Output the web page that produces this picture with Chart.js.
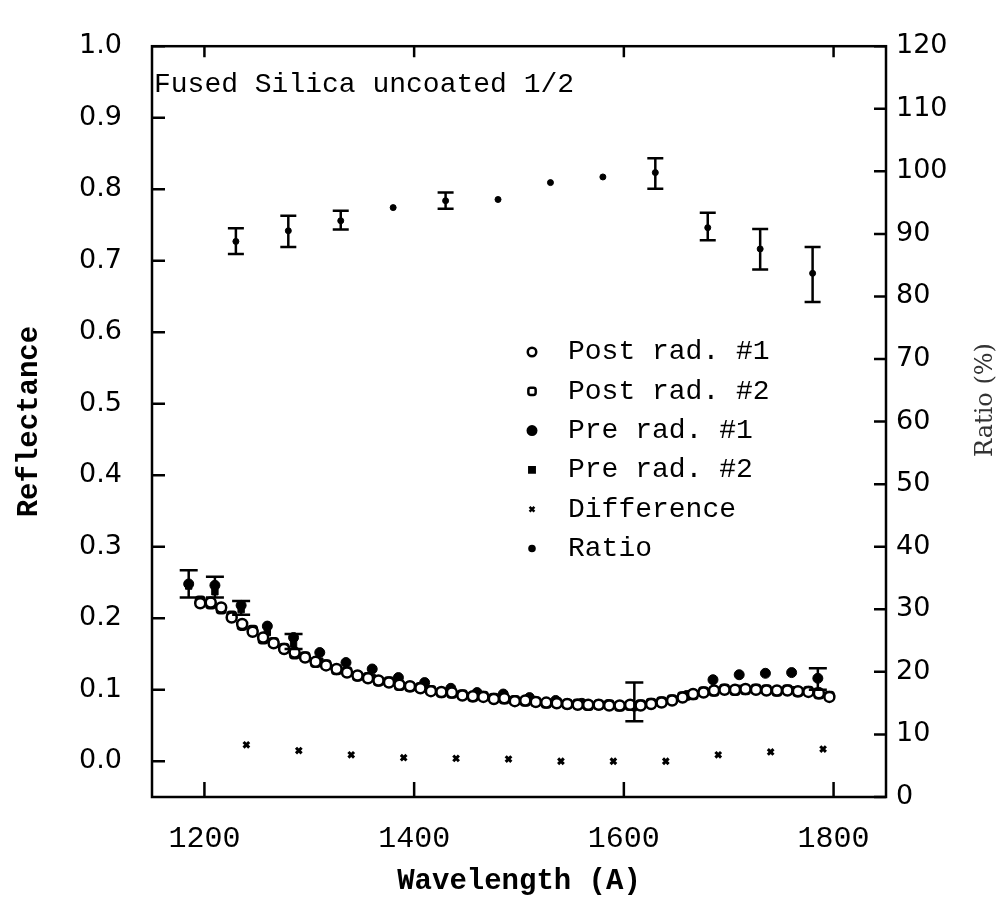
<!DOCTYPE html>
<html>
<head>
<meta charset="utf-8">
<script src="https://cdn.jsdelivr.net/npm/chart.js@4.4.1/dist/chart.umd.min.js"></script>
<style>
  html, body { margin: 0; padding: 0; background: #fff; }
</style>
</head>
<body>
<canvas id="chart" width="1003" height="911"></canvas>
<script>
// post radiation scans (dense, ~10 A step)
const postWave = [1196, 1206, 1216, 1226, 1236, 1246, 1256, 1266, 1276, 1286,
    1296, 1306, 1316, 1326, 1336, 1346, 1356, 1366, 1376, 1386,
    1396, 1406, 1416, 1426, 1436, 1446, 1456, 1466, 1476, 1486,
    1496, 1506, 1516, 1526, 1536, 1546, 1556, 1566, 1576, 1586,
    1596, 1606, 1616, 1626, 1636, 1646, 1656, 1666, 1676, 1686,
    1696, 1706, 1716, 1726, 1736, 1746, 1756, 1766, 1776, 1786, 1796];
const post1 = [0.221, 0.222, 0.215, 0.201, 0.192, 0.181, 0.173, 0.165, 0.157, 0.152,
    0.145, 0.139, 0.134, 0.129, 0.124, 0.120, 0.116, 0.113, 0.110, 0.107,
    0.105, 0.102, 0.098, 0.097, 0.096, 0.092, 0.091, 0.090, 0.087, 0.088,
    0.084, 0.085, 0.083, 0.082, 0.081, 0.080, 0.079, 0.079, 0.079, 0.078,
    0.078, 0.079, 0.078, 0.080, 0.082, 0.085, 0.089, 0.094, 0.096, 0.099,
    0.100, 0.100, 0.101, 0.100, 0.099, 0.099, 0.099, 0.098, 0.097, 0.095, 0.090];
const post2 = [0.224, 0.220, 0.213, 0.203, 0.190, 0.183, 0.171, 0.166, 0.158, 0.150,
    0.146, 0.138, 0.135, 0.128, 0.125, 0.119, 0.117, 0.112, 0.111, 0.106,
    0.104, 0.103, 0.099, 0.096, 0.095, 0.093, 0.090, 0.091, 0.088, 0.087,
    0.085, 0.084, 0.083, 0.081, 0.082, 0.080, 0.080, 0.078, 0.079, 0.079,
    0.077, 0.078, 0.079, 0.081, 0.083, 0.086, 0.090, 0.093, 0.097, 0.098,
    0.101, 0.099, 0.100, 0.101, 0.100, 0.098, 0.100, 0.097, 0.098, 0.094, 0.091];

// pre radiation scans (~25 A step)
const preWave = [1185, 1210, 1235, 1260, 1285, 1310, 1335, 1360, 1385, 1410, 1435, 1460, 1485,
    1510, 1535, 1560, 1585, 1610, 1635, 1660, 1685, 1710, 1735, 1760, 1785];
const pre1 = [0.248, 0.246, 0.218, 0.189, 0.173, 0.152, 0.138, 0.129, 0.117, 0.110, 0.102, 0.096, 0.094,
    0.089, 0.085, 0.081, 0.079, 0.077, 0.082, 0.092, 0.114, 0.121, 0.123, 0.124, 0.116];
const pre1Lo = [0.229, 0.229, 0.205, null, 0.157, null, null, null, null, null, null, null, null,
    null, null, null, null, 0.056, null, null, null, null, null, null, 0.100];
const pre1Hi = [0.267, 0.258, 0.224, null, 0.178, null, null, null, null, null, null, null, null,
    null, null, null, null, 0.110, null, null, null, null, null, null, 0.130];
const pre2 = [0.245, 0.237, 0.212, 0.180, 0.164, 0.140, 0.126, 0.117, 0.108, 0.102, 0.096, 0.091, 0.088,
    0.085, 0.082, 0.080, 0.079, 0.078, 0.081, 0.090, 0.098, 0.102, 0.101, 0.100, 0.098];

// difference (left axis)
const diffWave = [1240, 1290, 1340, 1390, 1440, 1490, 1540, 1590, 1640, 1690, 1740, 1790];
const diff = [0.023, 0.015, 0.009, 0.005, 0.004, 0.003, 0.000, 0.000, 0.000, 0.009, 0.013, 0.017];

// ratio in % (right axis)
const ratioWave = [1230, 1280, 1330, 1380, 1430, 1480, 1530, 1580, 1630, 1680, 1730, 1780];
const ratio = [88.8, 90.5, 92.1, 94.2, 95.3, 95.5, 98.2, 99.1, 99.8, 91.0, 87.6, 83.7];
const ratioLo = [86.8, 87.9, 90.7, null, 94.0, null, null, null, 97.2, 89.0, 84.3, 79.1];
const ratioHi = [90.9, 92.9, 93.7, null, 96.6, null, null, null, 102.1, 93.4, 90.8, 87.9];

const xTicks = [1200, 1400, 1600, 1800];
const yTicks = [0.0, 0.1, 0.2, 0.3, 0.4, 0.5, 0.6, 0.7, 0.8, 0.9, 1.0];
const y1Ticks = [0, 10, 20, 30, 40, 50, 60, 70, 80, 90, 100, 110, 120];

const pts = (xs, ys) => xs.map((x, i) => ({ x: x, y: ys[i] }));

const datasets = [
    { label: 'Post rad. #1', data: pts(postWave, post1), pointStyle: 'circle', pointRadius: 5,
      borderWidth: 2.5, borderColor: '#000', backgroundColor: '#fff' },
    { label: 'Post rad. #2', data: pts(postWave, post2), pointStyle: 'rectRounded', pointRadius: 5,
      borderWidth: 2.5, borderColor: '#000', backgroundColor: '#fff' },
    { label: 'Pre rad. #1', data: pts(preWave, pre1), pointStyle: 'circle', pointRadius: 5,
      borderWidth: 1, borderColor: '#000', backgroundColor: '#000', errLo: pre1Lo, errHi: pre1Hi, capW: 9 },
    { label: 'Pre rad. #2', data: pts(preWave, pre2), pointStyle: 'rect', pointRadius: 4.5,
      borderWidth: 1, borderColor: '#000', backgroundColor: '#000' },
    { label: 'Difference', data: pts(diffWave, diff), pointStyle: 'crossRot', pointRadius: 4,
      borderWidth: 3, borderColor: '#000', backgroundColor: '#000' },
    { label: 'Ratio', data: pts(ratioWave, ratio), yAxisID: 'y1', pointStyle: 'circle', pointRadius: 3,
      borderWidth: 1, borderColor: '#000', backgroundColor: '#000', errLo: ratioLo, errHi: ratioHi, capW: 8 }
];
datasets.forEach(d => { d.showLine = false; d.pointHoverRadius = d.pointRadius; });

const errorBars = {
    id: 'errorBars',
    afterDatasetsDraw(chart) {
        const ctx = chart.ctx;
        ctx.save();
        ctx.strokeStyle = '#000';
        ctx.lineWidth = 2.5;
        chart.data.datasets.forEach((ds, di) => {
            if (!ds.errLo) return;
            const meta = chart.getDatasetMeta(di);
            const ys = chart.scales[ds.yAxisID || 'y'];
            ds.errLo.forEach((lo, i) => {
                if (lo === null) return;
                const px = meta.data[i].x;
                const pLo = ys.getPixelForValue(lo);
                const pHi = ys.getPixelForValue(ds.errHi[i]);
                ctx.beginPath();
                ctx.moveTo(px, pLo); ctx.lineTo(px, pHi);
                ctx.moveTo(px - ds.capW, pLo); ctx.lineTo(px + ds.capW, pLo);
                ctx.moveTo(px - ds.capW, pHi); ctx.lineTo(px + ds.capW, pHi);
                ctx.stroke();
            });
        });
        ctx.restore();
    }
};

const frame = {
    id: 'frame',
    afterDraw(chart) {
        const { ctx, chartArea: a, scales } = chart;
        ctx.save();
        ctx.strokeStyle = '#000';
        ctx.lineWidth = 2.5;
        ctx.strokeRect(a.left, a.top, a.right - a.left, a.bottom - a.top);
        ctx.beginPath();
        xTicks.forEach(v => {
            const px = scales.x.getPixelForValue(v);
            ctx.moveTo(px, a.bottom); ctx.lineTo(px, a.bottom - 15);
            ctx.moveTo(px, a.top); ctx.lineTo(px, a.top + 11);
        });
        yTicks.forEach(v => {
            const py = scales.y.getPixelForValue(v);
            ctx.moveTo(a.left, py); ctx.lineTo(a.left + 13, py);
        });
        y1Ticks.forEach(v => {
            const py = scales.y1.getPixelForValue(v);
            ctx.moveTo(a.right, py); ctx.lineTo(a.right - 12, py);
        });
        ctx.stroke();

        ctx.fillStyle = '#000';
        ctx.textBaseline = 'middle';
        ctx.textAlign = 'left';
        ctx.font = '28px "Liberation Mono"';
        ctx.fillText('Fused Silica uncoated 1/2', a.left + 2, a.top + 38);

        // legend
        const lx = 532, ly = 352, step = 39.3;
        chart.data.datasets.forEach((ds, i) => {
            const y = ly + i * step;
            ctx.fillStyle = ds.backgroundColor;
            ctx.strokeStyle = ds.borderColor;
            Chart.helpers.drawPoint(ctx, {
                pointStyle: ds.pointStyle, radius: ds.pointRadius * 0.85,
                borderWidth: ds.borderWidth, rotation: 0
            }, lx, y);
            ctx.fillStyle = '#000';
            ctx.font = '28px "Liberation Mono"';
            ctx.fillText(ds.label, lx + 36, y);
        });

        // right axis title, reading upward
        ctx.save();
        ctx.translate(986, 400);
        ctx.rotate(-Math.PI / 2);
        ctx.textAlign = 'center';
        ctx.fillStyle = '#333';
        ctx.font = '24px "DejaVu Serif"';
        ctx.fillText('Ratio (%)', 0, 0);
        ctx.restore();
        ctx.restore();
    }
};

new Chart(document.getElementById('chart').getContext('2d'), {
    type: 'scatter',
    data: { datasets: datasets },
    options: {
        responsive: false,
        devicePixelRatio: 1,
        animation: false,
        layout: { padding: { top: 38, left: 0, right: 0, bottom: 0 } },
        plugins: {
            legend: { display: false },
            tooltip: { enabled: false }
        },
        scales: {
            x: {
                type: 'linear', position: 'bottom', min: 1150, max: 1850,
                afterBuildTicks: s => { s.ticks = xTicks.map(v => ({ value: v })); },
                afterFit: s => { s.height = 114; },
                grid: { display: false, drawTicks: false },
                border: { display: false },
                ticks: { color: '#000', padding: 24, maxRotation: 0, callback: v => String(v),
                         font: { family: 'Liberation Mono', size: 30 } },
                title: { display: true, text: 'Wavelength (A)', color: '#000', padding: { top: 0, bottom: 12 },
                         font: { family: 'Liberation Mono', size: 29, weight: 'bold' } }
            },
            y: {
                type: 'linear', position: 'left', min: -0.05, max: 1.0,
                afterBuildTicks: s => { s.ticks = yTicks.map(v => ({ value: v })); },
                afterFit: s => { s.width = 152; },
                grid: { display: false, drawTicks: false },
                border: { display: false },
                ticks: { color: '#000', padding: 30, callback: v => v.toFixed(1),
                         font: { family: 'DejaVu Sans', size: 27 } },
                title: { display: true, text: 'Reflectance', color: '#000', padding: { top: 12, bottom: 0 },
                         font: { family: 'Liberation Mono', size: 29, weight: 'bold' } }
            },
            y1: {
                type: 'linear', position: 'right', min: 0, max: 120,
                afterBuildTicks: s => { s.ticks = y1Ticks.map(v => ({ value: v })); },
                afterFit: s => { s.width = 117; },
                grid: { display: false, drawTicks: false },
                border: { display: false },
                ticks: { color: '#000', padding: 10, callback: v => String(v),
                         font: { family: 'DejaVu Sans', size: 27 } }
            }
        }
    },
    plugins: [errorBars, frame]
});
</script>
</body>
</html>
